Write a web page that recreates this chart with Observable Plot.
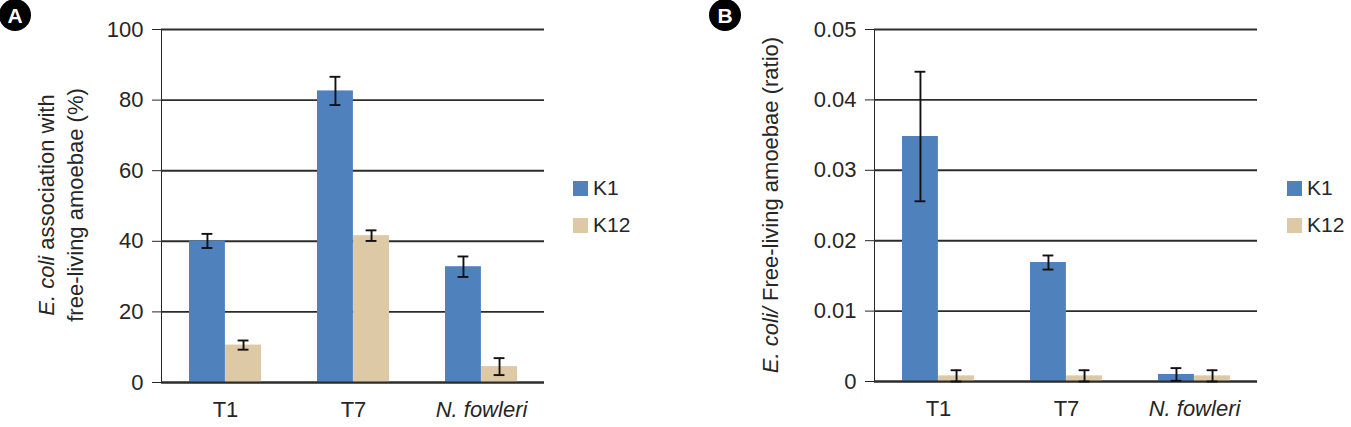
<!DOCTYPE html>
<html><head><meta charset="utf-8">
<script src="https://cdn.jsdelivr.net/npm/d3@7"></script>
<script src="https://cdn.jsdelivr.net/npm/@observablehq/plot@0.6"></script>
<style>
body{margin:0;background:#fff;}
#root{position:relative;width:1351px;height:427px;overflow:hidden;font-family:"Liberation Sans",Arial,sans-serif;color:#262626;}
.panel{position:absolute;top:0;}
.badge{position:absolute;width:32px;height:32px;border-radius:50%;background:#000;color:#fff;font-weight:bold;font-size:21px;line-height:33px;text-align:center;}
.legend{position:absolute;font-size:21px;}
.legend .row{position:absolute;left:0;display:flex;align-items:center;white-space:nowrap;height:24px;}
.legend .sw{width:15px;height:15px;margin-right:5px;}
</style></head>
<body><div id="root"></div>
<script>
// ---- data ----
const categories = ["T1", "T7", "N. fowleri"];
const series = ["K1", "K12"];
const colors = ["#4f81bd", "#ddc9a6"];

const aK1 = [40.1, 82.6, 32.8];
const aK1Err = [2.0, 4.0, 2.9];
const aK12 = [10.6, 41.6, 4.5];
const aK12Err = [1.3, 1.5, 2.4];
const aTicks = [0, 20, 40, 60, 80, 100];
const aTickLabels = ["0", "20", "40", "60", "80", "100"];

const bK1 = [0.0348, 0.0169, 0.0010];
const bK1Err = [0.0092, 0.0010, 0.0009];
const bK12 = [0.0008, 0.0008, 0.0008];
const bK12Err = [0.0008, 0.0008, 0.0008];
const bTicks = [0, 0.01, 0.02, 0.03, 0.04, 0.05];
const bTickLabels = ["0", "0.01", "0.02", "0.03", "0.04", "0.05"];

const FONT = '"Liberation Sans", Arial, sans-serif';
const PI = 0.4375, PO = 0.211, CAP = 5.5;
const GRID = "#2c2c2c";

function makePanel(cfg) {
  const rows = categories.flatMap((c, i) => series.map((s, j) => ({
    cat: c, series: s, value: cfg.values[j][i], err: cfg.errs[j][i],
    lo: Math.max(0, cfg.values[j][i] - cfg.errs[j][i]), hi: cfg.values[j][i] + cfg.errs[j][i]
  })));
  const plotW = cfg.width - cfg.marginLeft - cfg.marginRight;
  const bw = d3.scaleBand().domain(categories).range([0, plotW]).paddingInner(PI).paddingOuter(PO).bandwidth();
  const k1 = rows.filter(d => d.series === "K1");
  const k12 = rows.filter(d => d.series === "K12");
  const ebar = {stroke: "#111", strokeWidth: 1.9};
  const labelOf = new Map(cfg.ticks.map((t, i) => [t, cfg.tickLabels[i]]));
  const chart = Plot.plot({
    width: cfg.width, height: 427,
    marginLeft: cfg.marginLeft, marginRight: cfg.marginRight, marginTop: 29, marginBottom: cfg.marginBottom,
    style: {fontFamily: FONT, fontSize: "22px", color: "#262626", background: "white", overflow: "visible"},
    x: {domain: categories, paddingInner: PI, paddingOuter: PO, tickSize: 0, tickPadding: 19, label: null},
    y: {domain: cfg.domain, ticks: cfg.ticks, tickSize: 9, tickPadding: 9, label: null, line: true,
        tickFormat: t => labelOf.get(t)},
    color: {domain: series, range: colors},
    marks: [
      Plot.ruleY(cfg.ticks, {stroke: GRID, strokeWidth: 1.9}),
      Plot.barY(k1, {x: "cat", y: "value", fill: "series", insetLeft: 0, insetRight: bw / 2}),
      Plot.barY(k12, {x: "cat", y: "value", fill: "series", insetLeft: bw / 2, insetRight: 0}),
      Plot.ruleY([cfg.domain[0]], {stroke: GRID, strokeWidth: 1.9}),
      Plot.ruleX(k1, {x: "cat", y1: "lo", y2: "hi", dx: -bw / 4, ...ebar}),
      Plot.ruleX(k12, {x: "cat", y1: "lo", y2: "hi", dx: bw / 4, ...ebar}),
      Plot.tickY(k1, {x: "cat", y: "hi", insetLeft: bw / 4 - CAP, insetRight: 3 * bw / 4 - CAP, ...ebar}),
      Plot.tickY(k1, {x: "cat", y: "lo", insetLeft: bw / 4 - CAP, insetRight: 3 * bw / 4 - CAP, ...ebar}),
      Plot.tickY(k12, {x: "cat", y: "hi", insetLeft: 3 * bw / 4 - CAP, insetRight: bw / 4 - CAP, ...ebar}),
      Plot.tickY(k12, {x: "cat", y: "lo", insetLeft: 3 * bw / 4 - CAP, insetRight: bw / 4 - CAP, ...ebar})
    ]
  });
  const svg = d3.select(chart.tagName.toLowerCase() === "svg" ? chart : chart.querySelector("svg"));
  svg.selectAll("text").filter(function () { return this.textContent === "N. fowleri"; })
    .style("font-style", "italic");
  cfg.titles.forEach(t => {
    const txt = svg.append("text")
      .attr("transform", `translate(${t.x},205) rotate(-90)`)
      .attr("text-anchor", "middle")
      .attr("fill", "#262626")
      .style("font-family", FONT).style("font-size", "22px");
    t.parts.forEach(p => txt.append("tspan").text(p[0]).style("font-style", p[1] ? "italic" : "normal"));
  });
  const wrap = document.createElement("div");
  wrap.className = "panel";
  wrap.style.left = cfg.left + "px";
  wrap.appendChild(chart);
  return wrap;
}

function makeLegend(left) {
  const lg = document.createElement("div");
  lg.className = "legend";
  lg.style.left = left + "px";
  lg.style.top = "0px";
  const tops = [176, 213];
  series.forEach((s, i) => {
    const r = document.createElement("div");
    r.className = "row";
    r.style.top = tops[i] + "px";
    const sw = document.createElement("div");
    sw.className = "sw";
    sw.style.background = colors[i];
    const lab = document.createElement("span");
    lab.textContent = s;
    r.appendChild(sw); r.appendChild(lab);
    lg.appendChild(r);
  });
  return lg;
}

function badge(letter, left) {
  const b = document.createElement("div");
  b.className = "badge";
  b.style.left = left + "px";
  b.style.top = "-1px";
  b.textContent = letter;
  return b;
}

const root = document.getElementById("root");
root.appendChild(makePanel({
  left: 0, width: 680, marginLeft: 161, marginRight: 136, marginBottom: 45,
  values: [aK1, aK12], errs: [aK1Err, aK12Err], ticks: aTicks, tickLabels: aTickLabels, domain: [0, 100],
  titles: [
    {x: 54, parts: [["E. coli", true], [" association with", false]]},
    {x: 83, parts: [["free-living amoebae (%)", false]]}
  ]
}));
root.appendChild(makePanel({
  left: 680, width: 671, marginLeft: 194, marginRight: 94, marginBottom: 46,
  values: [bK1, bK12], errs: [bK1Err, bK12Err], ticks: bTicks, tickLabels: bTickLabels, domain: [0, 0.05],
  titles: [
    {x: 98, parts: [["E. coli/", true], [" Free-living amoebae (ratio)", false]]}
  ]
}));
root.appendChild(makeLegend(573));
root.appendChild(makeLegend(1287));
root.appendChild(badge("A", -1));
root.appendChild(badge("B", 709));
</script>
</body></html>
